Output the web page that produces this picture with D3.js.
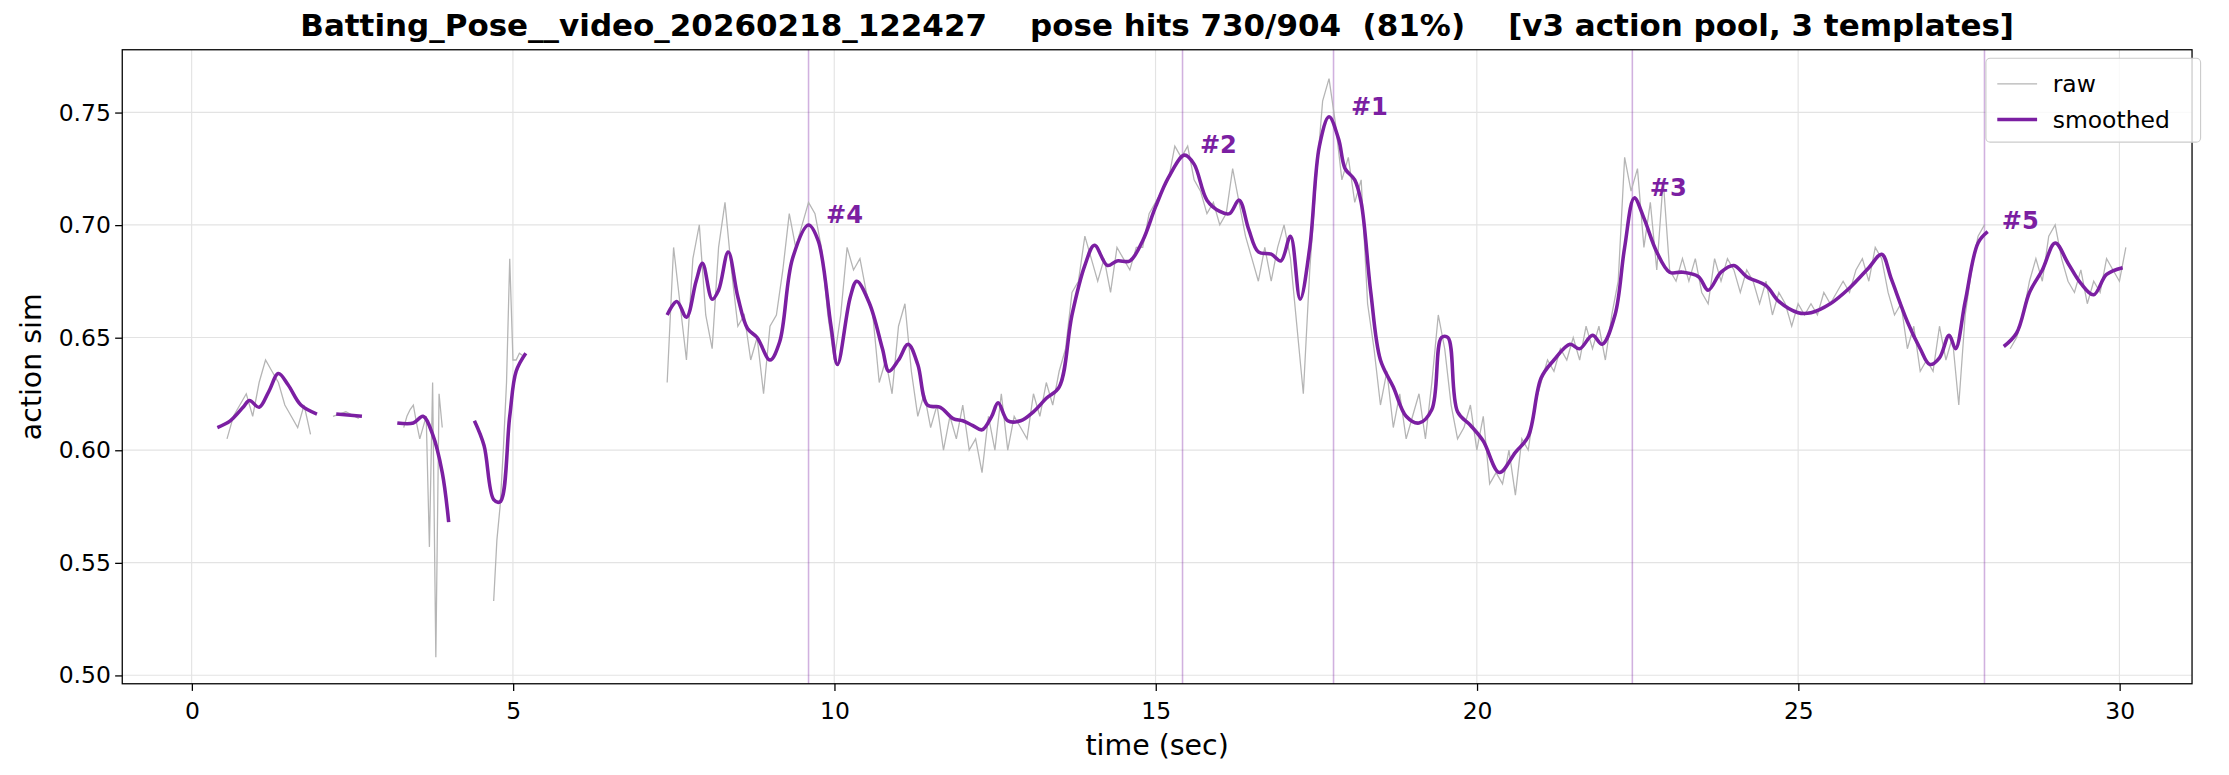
<!DOCTYPE html>
<html><head><meta charset="utf-8">
<script src="https://cdn.jsdelivr.net/npm/d3@7"></script>
<style>body{margin:0;background:#fff;font-family:"DejaVu Sans",sans-serif}</style>
</head><body><svg id="c" width="2229" height="775"></svg>
<script>
const titleText = "Batting_Pose__video_20260218_122427    pose hits 730/904  (81%)    [v3 action pool, 3 templates]";
const xTicks = [0,5,10,15,20,25,30];
const yTicks = [0.50,0.55,0.60,0.65,0.70,0.75];
const peakTimes = [9.6, 15.42, 17.77, 22.42, 27.9];
const peakValues = [0.700, 0.731, 0.748, 0.712, 0.697];
const peakLabels = ["#4","#2","#1","#3","#5"];
const smoothSegments = [
 [[0.4,.610],[0.6,.613],[0.8,.619],[0.9,.622],[1.05,.619],[1.2,.626],[1.35,.634],[1.5,.629],[1.7,.620],[1.95,.616]],
 [[2.25,.616],[2.65,.615]],
 [[3.2,.612],[3.45,.612],[3.6,.615],[3.75,.607],[3.9,.590],[4.0,.568]],
 [[4.4,.613],[4.55,.602],[4.7,.578],[4.8,.577],[4.95,.615],[5.05,.635],[5.2,.643]],
 [[7.4,.660],[7.55,.666],[7.7,.659],[7.85,.675],[7.95,.683],[8.1,.667],[8.2,.671],[8.35,.688],[8.5,.668],[8.65,.654],[8.8,.650],[9.0,.640],[9.15,.648],[9.35,.685],[9.6,.700],[9.75,.693],[9.95,.655],[10.05,.638],[10.25,.668],[10.35,.675],[10.55,.665],[10.75,.645],[10.85,.635],[11.0,.640],[11.15,.647],[11.3,.638],[11.45,.620],[11.65,.619],[11.85,.614],[12.0,.613],[12.15,.611],[12.3,.609],[12.45,.615],[12.55,.621],[12.7,.613],[12.9,.613],[13.1,.617],[13.3,.623],[13.5,.628],[13.7,.660],[13.9,.682],[14.05,.691],[14.25,.682],[14.4,.684],[14.6,.684],[14.8,.693],[15.0,.708],[15.2,.721],[15.45,.731],[15.6,.727],[15.8,.711],[16.0,.706],[16.15,.705],[16.3,.711],[16.45,.698],[16.6,.688],[16.8,.687],[16.95,.684],[17.1,.695],[17.25,.667],[17.4,.690],[17.55,.735],[17.7,.748],[17.85,.738],[17.95,.725],[18.1,.720],[18.2,.710],[18.35,.670],[18.5,.640],[18.7,.628],[18.9,.615],[19.1,.612],[19.3,.618],[19.45,.650],[19.55,.650],[19.7,.617],[19.9,.611],[20.1,.604],[20.35,.590],[20.6,.599],[20.8,.606],[21.0,.632],[21.2,.640],[21.45,.647],[21.6,.645],[21.8,.651],[21.95,.647],[22.15,.660],[22.3,.690],[22.45,.712],[22.6,.703],[22.8,.688],[23.0,.679],[23.2,.679],[23.45,.677],[23.6,.671],[23.8,.679],[24.0,.682],[24.2,.677],[24.5,.673],[24.7,.666],[25.0,.661],[25.2,.661],[25.5,.665],[25.8,.672],[26.1,.681],[26.3,.687],[26.45,.676],[26.7,.657],[26.9,.645],[27.05,.638],[27.2,.641],[27.35,.651],[27.45,.645],[27.6,.666],[27.8,.692],[27.95,.697]],
 [[28.2,.646],[28.4,.652],[28.6,.670],[28.8,.680],[29.0,.692],[29.2,.683],[29.4,.674],[29.6,.669],[29.8,.678],[30.05,.681]]
];
const rawSegments = [
 {start:0.55, step:0.1, values:[.605,.615,.62,.625,.615,.63,.64,.635,.63,.62,.615,.61,.62,.607]},
 {start:2.2, step:0.2, values:[.615,.617,.614]},
 {start:3.3, step:0.05, values:[.61,.615,.618,.62,.612,.605,.61,.615,.557,.63,.508,.625,.61]},
 {start:4.7, step:0.05, values:[.533,.56,.575,.60,.63,.685,.64,.64,.643,.642]},
 {start:7.4, step:0.1, values:[.63,.69,.665,.64,.685,.70,.66,.645,.69,.71,.68,.655,.66,.64,.65,.625,.655,.66,.68,.705,.69,.70,.71,.705,.69,.66,.64,.66,.69,.68,.685,.67,.66,.63,.64,.625,.655,.665,.635,.615,.625,.61,.62,.60,.615,.605,.62,.60,.605,.59,.615,.60,.625,.60,.615,.61,.605,.625,.615,.63,.62,.635,.645,.67,.675,.695,.685,.675,.685,.67,.69,.685,.68,.69,.69,.705,.71,.715,.72,.735,.73,.735,.72,.715,.705,.71,.70,.705,.725,.71,.695,.685,.675,.69,.675,.69,.70,.685,.655,.625,.68,.72,.755,.765,.745,.72,.73,.71,.72,.665,.645,.62,.635,.61,.625,.605,.615,.625,.605,.63,.66,.645,.62,.605,.61,.62,.60,.615,.585,.59,.585,.60,.58,.605,.60,.62,.63,.64,.635,.645,.64,.65,.64,.655,.645,.655,.64,.66,.675,.73,.715,.725,.69,.71,.68,.72,.68,.675,.685,.675,.685,.67,.665,.685,.675,.685,.68,.67,.68,.675,.665,.675,.66,.67,.665,.655,.665,.66,.665,.66,.67,.665,.67,.675,.67,.68,.685,.675,.69,.685,.67,.66,.665,.645,.655,.635,.64,.635,.655,.64,.65,.62,.66,.68,.695,.70]},
 {start:28.3, step:0.1, values:[.645,.65,.66,.675,.685,.675,.695,.70,.685,.675,.67,.68,.665,.675,.67,.685,.68,.675,.69]}
];

const purple = "#7b1fa2";
const root = d3.select("#c");
const svg = root.append("g").attr("transform",`scale(${2229/1568})`);
const M = {l:86, r:1542, t:35, b:481};
const x = d3.scaleLinear().domain([-1.08, 31.13]).range([M.l, M.r]);
const y = d3.scaleLinear().domain([0.4962, 0.7778]).range([M.b, M.t]);

svg.append("g").selectAll("line").data(xTicks).join("line")
 .attr("x1",d=>x(d)).attr("x2",d=>x(d)).attr("y1",M.t).attr("y2",M.b)
 .attr("stroke","#e3e3e3").attr("stroke-width",0.8);
svg.append("g").selectAll("line").data(yTicks).join("line")
 .attr("y1",d=>y(d)).attr("y2",d=>y(d)).attr("x1",M.l).attr("x2",M.r)
 .attr("stroke","#e3e3e3").attr("stroke-width",0.8);

svg.append("g").selectAll("line").data(peakTimes).join("line")
 .attr("x1",d=>x(d)).attr("x2",d=>x(d)).attr("y1",M.t).attr("y2",M.b)
 .attr("stroke",purple).attr("stroke-opacity",0.35).attr("stroke-width",1.1);

const line = d3.line().x(d=>x(d[0])).y(d=>y(d[1]));
rawSegments.forEach(s=>{
  const pts = s.values.map((v,i)=>[s.start+i*s.step, v]);
  svg.append("path").attr("d",line(pts)).attr("fill","none")
   .attr("stroke","#b5b5b5").attr("stroke-width",0.9);
});
const sline = d3.line().x(d=>x(d[0])).y(d=>y(d[1])).curve(d3.curveCatmullRom.alpha(0.5));
smoothSegments.forEach(s=>{
  svg.append("path").attr("d",sline(s)).attr("fill","none")
   .attr("stroke",purple).attr("stroke-width",2.5);
});

svg.append("g").selectAll("text").data(peakLabels).join("text")
 .attr("x",(d,i)=>x(peakTimes[i]+0.27)).attr("y",(d,i)=>y(peakValues[i]+0.001))
 .attr("fill",purple).attr("font-weight","bold").attr("font-size",17).text(d=>d);

const xa = svg.append("g").attr("transform",`translate(0,${M.b})`)
 .call(d3.axisBottom(x).tickValues(xTicks).tickFormat(d3.format("d")).tickSize(5).tickSizeOuter(0));
const ya = svg.append("g").attr("transform",`translate(${M.l},0)`)
 .call(d3.axisLeft(y).tickValues(yTicks).tickFormat(d3.format(".2f")).tickSize(5).tickSizeOuter(0));
[xa,ya].forEach(a=>{a.select(".domain").remove();
 a.selectAll("text").attr("font-size",16.5).attr("font-family","DejaVu Sans").attr("fill","#000");
 a.selectAll("line").attr("stroke","#000").attr("stroke-width",0.9);});
xa.selectAll("text").attr("dy","1.0em");
ya.selectAll("text").attr("x",-8);
svg.append("rect").attr("x",M.l).attr("y",M.t).attr("width",M.r-M.l).attr("height",M.b-M.t)
 .attr("fill","none").attr("stroke","#000").attr("stroke-width",0.9);

svg.append("text").attr("x",(M.l+M.r)/2).attr("y",25).attr("text-anchor","middle")
 .attr("font-weight","bold").attr("font-size",21.8).style("white-space","pre").text(titleText);
svg.append("text").attr("x",(M.l+M.r)/2).attr("y",531).attr("text-anchor","middle").attr("font-size",20).text("time (sec)");
svg.append("text").attr("transform",`translate(29,${(M.t+M.b)/2}) rotate(-90)`).attr("text-anchor","middle").attr("font-size",20).text("action sim");

const lg = svg.append("g").attr("transform","translate(1397,41)");
lg.append("rect").attr("width",151).attr("height",59).attr("rx",3).attr("fill","#fff").attr("fill-opacity",0.8).attr("stroke","#ccc").attr("stroke-width",0.8);
lg.append("line").attr("x1",8).attr("x2",36).attr("y1",18).attr("y2",18).attr("stroke","#b5b5b5").attr("stroke-width",0.9);
lg.append("text").attr("x",47).attr("y",24).attr("font-size",16.5).text("raw");
lg.append("line").attr("x1",8).attr("x2",36).attr("y1",43).attr("y2",43).attr("stroke",purple).attr("stroke-width",2.5);
lg.append("text").attr("x",47).attr("y",49).attr("font-size",16.5).text("smoothed");
</script></body></html>
